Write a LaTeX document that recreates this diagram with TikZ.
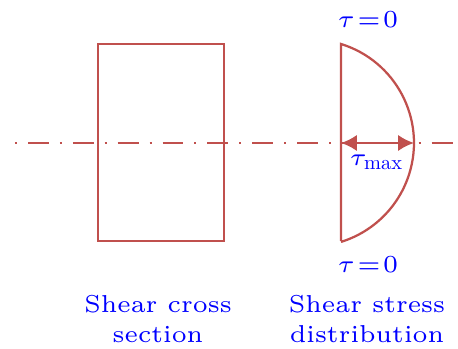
\documentclass[tikz,border=0pt]{standalone}
\usepackage{graphicx}
\usetikzlibrary{arrows.meta}
\definecolor{cred}{HTML}{C0504D}
\newcommand{\tauzero}{$\tau\mskip1.5mu{=}\mskip1.5mu0$}
\newcommand{\taumaxlbl}{$\tau_{\scalebox{0.5}{\normalsize max}}$}
\begin{document}
\begin{tikzpicture}[x=0.245pt,y=-0.245pt,
  shapeline/.style={draw=cred,line width=0.55pt},
  lbl/.style={text=blue,font=\fontsize{6}{7.3}\selectfont,align=center,inner sep=0pt}]
\useasboundingbox (0,0) rectangle (458,349);
\draw[cred, line width=0.48pt, dash pattern=on 0.49pt off 2.7pt on 5.1pt off 2.7pt] (15,143) -- (455,143);
\draw[shapeline] (98,44) rectangle (224,241);
\coordinate (top) at (341,44);
\coordinate (bot) at (341,241);
\coordinate (tip) at (414,143);
\coordinate (mid) at (341,143);
\draw[shapeline] (bot) -- (top) arc[start angle=-72.8, end angle=72.8, radius=103.6];
\draw[shapeline, {Latex[length=3.9pt,width=4pt]}-{Latex[length=3.9pt,width=4pt]}] (mid) -- (tip);
\node[lbl] (t0top) at (368,20) {\tauzero};
\node[lbl] (t0bot) at (368,265) {\tauzero};
\node[lbl] (tmax) at (377,162) {\taumaxlbl};
\node[lbl] (l1) at (158,319) {Shear cross\\section};
\node[lbl] (l2) at (367,319) {Shear stress\\distribution};
\end{tikzpicture}
\end{document}
